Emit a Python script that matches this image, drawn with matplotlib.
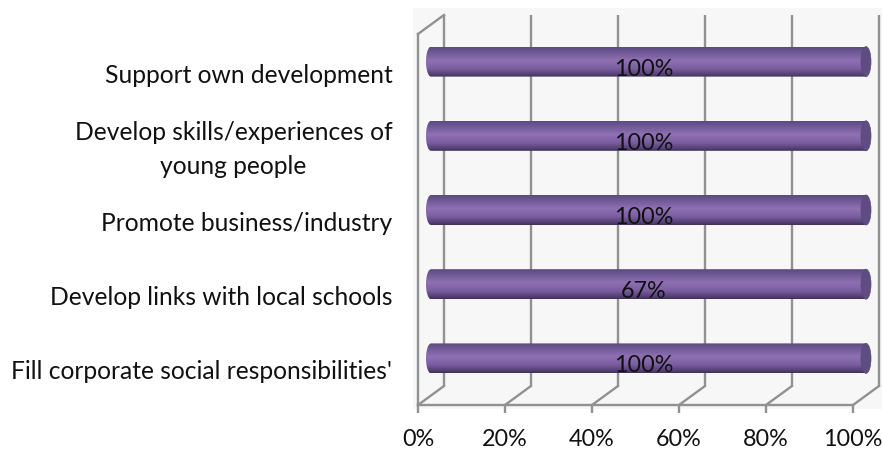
import numpy as np
import matplotlib
matplotlib.use("Agg")
import matplotlib.pyplot as plt
from matplotlib.colors import LinearSegmentedColormap
from matplotlib.patches import Rectangle, Polygon, Ellipse
from matplotlib.transforms import Affine2D

categories = ["Fill corporate social responsibilities'",
              "Develop links with local schools",
              "Promote business/industry",
              "Develop skills/experiences of\nyoung people",
              "Support own development"]
bar_values = [100, 100, 100, 100, 100]
data_labels = ["100%", "67%", "100%", "100%", "100%"]
x_ticks = [0, 20, 40, 60, 80, 100]
x_tick_labels = ["0%", "20%", "40%", "60%", "80%", "100%"]

plt.rcParams['font.family'] = ['Lato', 'DejaVu Sans']
W, H = 882, 450
fig = plt.figure(figsize=(W / 100, H / 100), dpi=100, facecolor='white')

# panel background
fig.patches.append(Rectangle((413 / W, 1 - 409 / H), 469 / W, 401 / H,
                             transform=fig.transFigure, fc='#f7f7f7', ec='none', zorder=-5))

# front plane of the fake-3D box
L, R, T, B = 418, 853, 34, 405
ax = fig.add_axes([L / W, 1 - B / H, (R - L) / W, (B - T) / H])
ax.patch.set_visible(False)
ax.set_xlim(0, 100)
ax.set_ylim(-0.5, 4.5)

GRID = '#919191'
DX, DY = 26, 19  # depth in pixels
back = ax.transData + Affine2D().translate(DX, DY)
mid = ax.transData + Affine2D().translate(13, 9.5)
lw = 1.7

y0, y1 = ax.get_ylim()
for t in x_ticks:
    ax.plot([t, t], [y0, y1], color=GRID, lw=lw, transform=back, clip_on=False, zorder=1,
            solid_capstyle='butt')
    # floor diagonal
    p0 = ax.transData.transform((t, y0))
    ax.plot([p0[0], p0[0] + DX], [p0[1], p0[1] + DY], color=GRID, lw=lw,
            transform=Affine2D(), clip_on=False, zorder=1)

# left wall
ax.plot([0, 0], [y0, y1], color=GRID, lw=lw, clip_on=False, zorder=1)
pt = ax.transData.transform((0, y1))
ax.plot([pt[0], pt[0] + DX], [pt[1], pt[1] + DY], color=GRID, lw=lw,
        transform=Affine2D(), clip_on=False, zorder=1)

# bars
cmap = LinearSegmentedColormap.from_list('cyl', [
    (0.00, '#5a4982'), (0.45, '#9071b4'),
    (0.72, '#7a5ea0'), (0.90, '#57437a'), (1.00, '#3f3158')])
grad = np.linspace(0, 1, 128).reshape(-1, 1)
bar_h = 30 / ((B - T) / 5)
cap_w = 5 / ((R - L) / 100)
theta = np.linspace(np.pi / 2, 3 * np.pi / 2, 40)
for i, v in enumerate(bar_values):
    top, bot = i + bar_h / 2, i - bar_h / 2
    im = ax.imshow(grad, cmap=cmap, aspect='auto', origin='upper',
                   extent=[-cap_w, v, bot, top], transform=mid, zorder=3,
                   interpolation='bilinear')
    im.set_clip_box(fig.bbox)
    xs = np.r_[v, cap_w * np.cos(theta), v]
    ys = np.r_[top, i + bar_h / 2 * np.sin(theta), bot]
    clip = Polygon(np.c_[xs, ys], closed=True, transform=mid, fc='none', ec='none')
    ax.add_patch(clip)
    im.set_clip_path(clip)
    ax.add_patch(Ellipse((v, i), 2 * cap_w, bar_h, transform=mid, fc='#5f4c82',
                         ec='#5a4878', lw=0.5, zorder=4, clip_on=False))
    ax.text(50, i, data_labels[i], transform=ax.transData + Affine2D().translate(8, 2),
            ha='center', va='center', fontsize=16.8, color='#111111', zorder=5, clip_on=False)

ax.set_xlim(0, 100)
ax.set_ylim(-0.5, 4.5)
ax.set_yticks(range(len(categories)))
ax.set_yticklabels(categories, multialignment='center', linespacing=1.55)
ax.set_xticks(x_ticks)
ax.set_xticklabels(x_tick_labels)
ax.tick_params(axis='y', length=0, pad=18.5, labelsize=17.7, labelcolor='#111111')
ax.tick_params(axis='x', length=5.8, width=lw, color=GRID, pad=11.5, labelsize=16.8, labelcolor='#111111')
for lab in ax.get_yticklabels():
    shift = 3 if '\n' in lab.get_text() else -2
    lab.set_transform(lab.get_transform() + Affine2D().translate(0, shift))
for s in ('top', 'left', 'right'):
    ax.spines[s].set_visible(False)
ax.spines['bottom'].set_color(GRID)
ax.spines['bottom'].set_linewidth(lw)

fig.savefig('out.png', dpi=100, facecolor='white')
